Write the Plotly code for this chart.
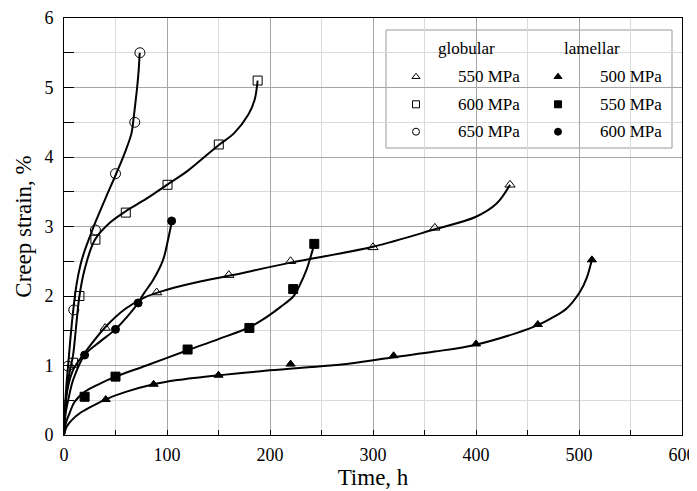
import plotly.graph_objects as go

# ---------------- data ----------------
# measured points (markers)
g550_t = [40, 90, 160, 220, 300, 360, 433]
g550_s = [1.54, 2.05, 2.30, 2.50, 2.70, 2.98, 3.60]
g600_t = [8.8, 15, 30.5, 60, 100.5, 150.3, 188]
g600_s = [1.04, 2.00, 2.81, 3.20, 3.60, 4.18, 5.10]
g650_t = [3.9, 9.5, 30.5, 50, 68.7, 73.7]
g650_s = [0.99, 1.80, 2.95, 3.76, 4.50, 5.50]
l500_t = [40.5, 87, 150, 220, 320, 400, 460, 512.5]
l500_s = [0.51, 0.73, 0.86, 1.02, 1.14, 1.31, 1.59, 2.52]
l550_t = [20, 50, 120, 180, 222.5, 243]
l550_s = [0.55, 0.84, 1.23, 1.54, 2.10, 2.75]
l600_t = [20, 50, 72, 104.5]
l600_s = [1.15, 1.52, 1.90, 3.08]

# fitted curves
g550_ct = [0, 1, 3, 6, 10, 20, 40, 60, 80, 100, 130, 160, 220, 300, 360, 400, 420, 433]
g550_cs = [0, 0.35, 0.62, 0.82, 0.97, 1.18, 1.55, 1.82, 1.99, 2.09, 2.20, 2.29, 2.48, 2.71, 2.96, 3.14, 3.33, 3.60]
g600_ct = [0, 1, 3, 6, 8.8, 12, 15, 20, 30, 45, 60, 80, 100, 120, 150, 165, 179, 185, 188]
g600_cs = [0, 0.35, 0.68, 0.95, 1.15, 1.6, 2.0, 2.38, 2.81, 3.06, 3.22, 3.40, 3.60, 3.80, 4.17, 4.34, 4.61, 4.82, 5.10]
g650_ct = [0, 1, 2.5, 4, 6, 9, 12, 16, 20, 25, 31, 41, 51, 59, 65.5, 67.5, 69.5, 71, 72.5, 73.5]
g650_cs = [0, 0.40, 0.75, 1.00, 1.35, 1.80, 2.15, 2.45, 2.65, 2.85, 3.08, 3.43, 3.77, 4.06, 4.34, 4.55, 4.80, 5.00, 5.25, 5.50]
l500_ct = [0, 2, 5, 10, 15, 23, 40, 60, 87, 110, 150, 200, 278, 320, 360, 400, 440, 460, 472, 488, 501, 507.5, 512.5]
l500_cs = [0, 0.10, 0.17, 0.25, 0.31, 0.38, 0.51, 0.62, 0.73, 0.79, 0.86, 0.93, 1.03, 1.12, 1.20, 1.30, 1.47, 1.58, 1.67, 1.82, 2.06, 2.26, 2.52]
l550_ct = [0, 2, 5.5, 10.4, 20, 35, 50, 80, 120, 150, 180, 197, 210, 223, 229, 235.5, 239, 243]
l550_cs = [0, 0.18, 0.32, 0.48, 0.62, 0.74, 0.84, 1.00, 1.22, 1.38, 1.55, 1.70, 1.84, 2.00, 2.16, 2.38, 2.54, 2.75]
l600_ct = [0, 1.5, 5.5, 8.8, 20, 34.7, 50, 60.6, 72, 76.8, 86.5, 96.2, 101, 104.4]
l600_cs = [0, 0.30, 0.60, 0.79, 1.15, 1.34, 1.52, 1.69, 1.90, 2.02, 2.23, 2.52, 2.81, 3.05]

legend_headers = ["globular", "lamellar"]
legend_labels_glob = ["550 MPa", "600 MPa", "650 MPa"]
legend_labels_lam = ["500 MPa", "550 MPa", "600 MPa"]

x_ticks = [0, 100, 200, 300, 400, 500, 600]
y_ticks = [0, 1, 2, 3, 4, 5, 6]

# ---------------- styling ----------------
FONT = "Liberation Serif, Times New Roman, serif"
OFF = 8  # page body margin of the html page
W, H = 697 - OFF, 491 - OFF
L, R, T = 64 - OFF, 15, 18 - OFF
B = H - (435 - OFF)
PW, PH = W - L - R, H - T - B

# helpers converting screen pixels (of the 697x491 window) into plot-area fractions
def fx(px):
    return (px - OFF - L) / PW

def fy(py):
    return (H - B - (py - OFF)) / PH

series = [
    (g550_ct, g550_cs, g550_t, g550_s, "triangle-up-open", 9),
    (g600_ct, g600_cs, g600_t, g600_s, "square-open", 9),
    (g650_ct, g650_cs, g650_t, g650_s, "circle-open", 10),
    (l500_ct, l500_cs, l500_t, l500_s, "triangle-up", 8),
    (l550_ct, l550_cs, l550_t, l550_s, "square", 9),
    (l600_ct, l600_cs, l600_t, l600_s, "circle", 8),
]

fig = go.Figure()
for ct, cs, mt, ms, sym, sz in series:
    fig.add_trace(go.Scatter(x=ct, y=cs, mode="lines",
                             line=dict(color="black", width=2, shape="spline", smoothing=1.0),
                             showlegend=False, hoverinfo="skip"))
    fig.add_trace(go.Scatter(x=mt, y=ms, mode="markers",
                             marker=dict(symbol=sym, size=sz, color="black",
                                         line=dict(color="black", width=1)),
                             showlegend=False))

# legend box (between gridlines and traces)
fig.add_shape(type="rect", xref="paper", yref="paper",
              x0=fx(386), x1=fx(672), y0=fy(148), y1=fy(30),
              fillcolor="white", line=dict(color="#9a9a9a", width=1), layer="between")

# legend symbols on an invisible overlay axis
leg_rows = [76.7, 104.3, 131.7]
glob_syms = ["triangle-up-open", "square-open", "circle-open"]
lam_syms = ["triangle-up", "square", "circle"]
fig.add_trace(go.Scatter(x=[fx(416)] * 3, y=[fy(r) for r in leg_rows], mode="markers",
                         xaxis="x2", yaxis="y2", showlegend=False, hoverinfo="skip",
                         marker=dict(symbol=glob_syms, size=7, color="black",
                                     line=dict(color="black", width=1))))
fig.add_trace(go.Scatter(x=[fx(558)] * 3, y=[fy(r) for r in leg_rows], mode="markers",
                         xaxis="x2", yaxis="y2", showlegend=False, hoverinfo="skip",
                         marker=dict(symbol=lam_syms, size=7, color="black",
                                     line=dict(color="black", width=1))))

ann = []
ann.append(dict(text=legend_headers[0], x=fx(466), y=fy(48)))
ann.append(dict(text=legend_headers[1], x=fx(591.5), y=fy(48)))
for r, a, b in zip(leg_rows, legend_labels_glob, legend_labels_lam):
    ann.append(dict(text=a, x=fx(488.5), y=fy(r)))
    ann.append(dict(text=b, x=fx(631), y=fy(r)))
for a in ann:
    fig.add_annotation(xref="paper", yref="paper", showarrow=False,
                       xanchor="center", yanchor="middle",
                       font=dict(family=FONT, size=17, color="black"), **a)

axis_common = dict(showline=True, linecolor="black", linewidth=1, mirror=True,
                   zeroline=False, ticks="inside", tickcolor="black", automargin=False,
                   ticklabeloverflow="allow",
                   tickfont=dict(family=FONT, size=18, color="black"),
                   showgrid=True, gridcolor="#a6a6a6", gridwidth=1)

fig.update_layout(
    width=W, height=H,
    margin=dict(l=L, r=R, t=T, b=B),
    paper_bgcolor="white", plot_bgcolor="white",
    showlegend=False,
    xaxis=dict(range=[0, 600], tickvals=x_ticks, ticklen=5,
               minor=dict(dtick=50, tick0=0, showgrid=True, gridcolor="#dadada",
                          ticks="inside", ticklen=5, tickcolor="black"),
               title=dict(text="Time, h", font=dict(family=FONT, size=23, color="black"), standoff=2),
               ticklabelstandoff=3,
               **axis_common),
    yaxis=dict(range=[0, 6], tickvals=y_ticks, ticklen=10,
               minor=dict(dtick=0.5, tick0=0, showgrid=True, gridcolor="#dadada",
                          ticks="inside", ticklen=10, tickcolor="black"),
               title=dict(text="Creep strain, %", font=dict(family=FONT, size=23, color="black"), standoff=6),
               ticklabelstandoff=6,
               **axis_common),
    xaxis2=dict(overlaying="x", range=[0, 1], visible=False, fixedrange=True),
    yaxis2=dict(overlaying="y", range=[0, 1], visible=False, fixedrange=True),
)

fig.write_html("out.html")
